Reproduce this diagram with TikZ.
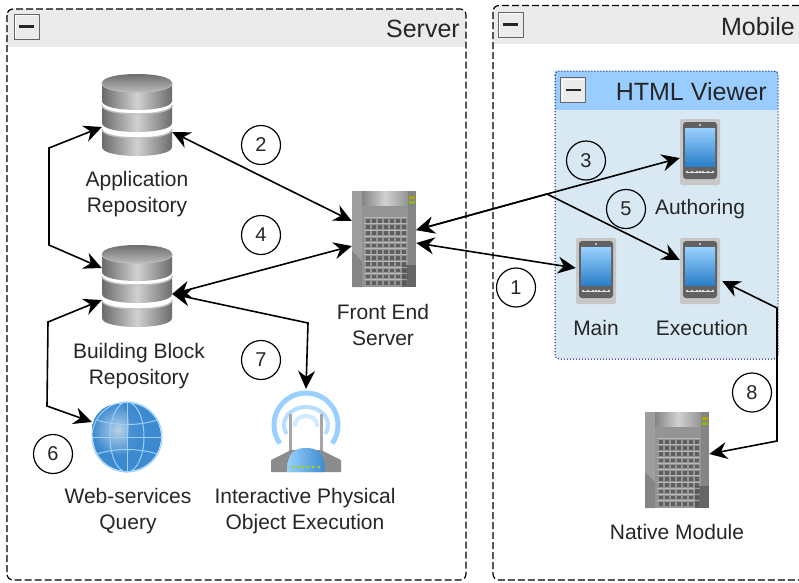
\documentclass[tikz,border=0pt]{standalone}
\usepackage{fontspec}
\setmainfont{Liberation Sans}
\usetikzlibrary{arrows.meta}
\definecolor{hdr}{HTML}{EBEBEB}
\definecolor{txt}{HTML}{262626}
\definecolor{viewbody}{HTML}{D9E9F4}
\definecolor{viewhead}{HTML}{99CCFF}
\definecolor{wave}{HTML}{99D0FF}
\definecolor{deepblue}{HTML}{2A80C8}
\definecolor{globeout}{HTML}{3D8AD0}
\definecolor{globein}{HTML}{B9D2E6}
\tikzset{
  x=1pt,y=-1pt,
  lbl/.style={font=\fontsize{21}{26}\selectfont,text=txt,align=center,inner sep=0pt},
  grouptitle/.style={font=\fontsize{25}{30}\selectfont,text=txt,inner sep=0pt,anchor=base east},
  num/.style={draw=black,line width=1.2pt,circle,minimum size=39pt,inner sep=0pt,font=\fontsize{20}{24}\selectfont,text=txt},
  conn/.style={line width=1.6pt,{Stealth[length=18pt,width=17pt,inset=6pt]}-{Stealth[length=18pt,width=17pt,inset=6pt]},line join=miter},
  groupline/.style={draw=black,line width=1.2pt,dash pattern=on 7pt off 3pt},
  iconbox/.style={rectangle,inner sep=0pt,draw=none},
  collapse/.style={rectangle,draw=gray!80!black,line width=1pt,fill=hdr,minimum size=25pt,inner sep=0pt,font=\fontsize{1}{1}\selectfont},
}
\newcommand{\minusbox}[3]{%
  \node[collapse] (#1) at (#2,#3) {};
  \draw[black!85,line width=2.6pt] (#2-7.5,#3) -- (#2+7.5,#3);
  \draw[white,line width=.8pt] (#2-11,#3+11) -- (#2-11,#3-11) -- (#2+11,#3-11);
}
\newcommand{\dbicon}[3]{%
  \begin{scope}[shift={(#2,#3)}]
    \foreach \t in {55,31,9}{
      \path[left color=black!58,right color=black!58,middle color=black!18]
        (0,\t) -- (0,\t+18) .. controls (0,\t+30) and (70,\t+30) .. (70,\t+18) -- (70,\t) .. controls (70,\t+12) and (0,\t+12) .. (0,\t) -- cycle;
      \draw[black!25,line width=1.4pt] (0,\t) .. controls (0,\t+12) and (70,\t+12) .. (70,\t);
    }
    \path[top color=black!62,bottom color=black!22] (0,9) .. controls (0,-3) and (70,-3) .. (70,9) .. controls (70,21) and (0,21) .. (0,9) -- cycle;
    \node[iconbox,minimum width=70pt,minimum height=82pt] (#1) at (35,41) {};
  \end{scope}
}
\newcommand{\phoneicon}[3]{%
  \begin{scope}[shift={(#2,#3)}]
    \fill[black!22,rounded corners=2pt] (0,0) rectangle (40,66);
    \fill[black!62,rounded corners=3pt] (3,3) rectangle (37,60);
    \path[top color=wave,bottom color=deepblue] (5,9) rectangle (35,47);
    \fill[white,opacity=.8] (20,6) circle (1.2pt);
    \foreach \d in {7,12,17,20,23,28,33}{\fill[black!12] (\d,53) circle (1.3pt);}
    \draw[black!12,line width=.5pt] (7,53) -- (33,53);
    \node[iconbox,minimum width=40pt,minimum height=66pt] (#1) at (20,33) {};
  \end{scope}
}
\newcommand{\servericon}[3]{%
  \begin{scope}[shift={(#2,#3)}]
    \fill[black!42] (0,0) rectangle (64,96);
    \path[left color=black!48,right color=black!42,middle color=black!18] (10,0) rectangle (56,14);
    \fill[black!38] (0,0) rectangle (10,96);
    \fill[black!48] (56,0) rectangle (64,96);
    \fill[black!60] (50,74) rectangle (64,96);
    \fill[black!48] (0,60) -- (10,70) -- (10,96) -- (0,96) -- cycle;
    \fill[olive!70!yellow] (57,5) rectangle (63,8);
    \fill[olive!50!green!70!yellow] (57,10) rectangle (63,13);
    \foreach \c in {0,...,6}{\foreach \r in {0,...,10}{
      \fill[black!68,opacity=.8] (14+\c*6,28+\r*6.2) rectangle +(3.6,3.6);
    }}
    \foreach \r in {0,...,10}{\draw[white,opacity=.35,line width=.6pt] (12,26.5+\r*6.2) -- (55,26.5+\r*6.2);}
    \node[iconbox,minimum width=64pt,minimum height=96pt] (#1) at (32,48) {};
  \end{scope}
}
\begin{document}
\begin{tikzpicture}
\useasboundingbox (0,0) rectangle (799,582);
\fill[white] (0,0) rectangle (799,582);

% Server group
\fill[hdr,rounded corners=6pt] (7,9) rectangle (466,30);
\fill[hdr] (7,18) rectangle (466,47);
\draw[groupline,rounded corners=6pt] (7,9) rectangle (466,580);
\minusbox{servermin}{26.5}{26.5}
\node[grouptitle] (servertitle) at (460,37) {Server};

% Mobile group
\fill[hdr] (493,6) rectangle (799,44);
\draw[groupline,rounded corners=6pt] (799,5.5) -- (493,5.5) -- (493,580) -- (799,580);
\minusbox{mobilemin}{510.5}{24.5}
\node[grouptitle] (mobiletitle) at (795,35) {Mobile};

% HTML Viewer
\fill[viewbody,rounded corners=4pt] (555,71) rectangle (778,359);
\fill[viewhead] (555,71) rectangle (778,110);
\draw[draw=black!65!blue,line width=1pt,dotted,rounded corners=4pt] (555,71) rectangle (778,359);
\minusbox{viewmin}{573}{90}
\node[grouptitle] (viewtitle) at (767,100) {HTML Viewer};

% Icons
\dbicon{appdb}{102}{74}
\dbicon{bbdb}{102}{245}
\servericon{fes}{352}{191}
\servericon{native}{645}{412}
\phoneicon{author}{680}{119}
\phoneicon{exec}{680}{238}
\phoneicon{mainp}{576}{238}

% Globe
\fill[globeout] (127,437) circle (34pt);
\shade[inner color=globein,outer color=globeout] (118,430) circle (26pt);
\fill[globeout,opacity=.8] (125,408) .. controls (145,405) and (158,420) .. (156,440) .. controls (150,455) and (140,462) .. (132,455) .. controls (122,440) and (135,425) .. (125,408) -- cycle;
\begin{scope}[draw=wave,line width=1pt]
  \draw (127,437) circle (35pt);
  \draw (127,437) ellipse [x radius=17pt,y radius=35pt];
  \draw (127,402) -- (127,472);
  \draw (92,437) -- (162,437);
  \draw (97,420) .. controls (115,426) and (139,426) .. (157,420);
  \draw (97,454) .. controls (115,448) and (139,448) .. (157,454);
\end{scope}
\node[iconbox,circle,minimum size=70pt] (globe) at (127,437) {};

% Router
\draw[wave!70!white,line width=4pt] plot[smooth,domain=-30:210,samples=25] ({306+22*cos(\x)},{425-18*sin(\x)});
\draw[wave!45!white,line width=4pt] plot[smooth,domain=-10:190,samples=25] ({306+11*cos(\x)},{425-9*sin(\x)});
\draw[black!35,line width=3pt] (290.5,414) -- (290.5,452);
\draw[black!35,line width=3pt] (321.5,414) -- (321.5,452);
\draw[wave,line width=5pt] plot[smooth,domain=-35:215,samples=30] ({306+32*cos(\x)},{425-32*sin(\x)});
\fill[black!45] (271,460) -- (291,450) -- (321,450) -- (341,460) -- (341,472) -- (271,472) -- cycle;
\path[left color=wave,right color=globeout] (287,472) .. controls (287,452) and (295,448) .. (306,448) .. controls (317,448) and (325,452) .. (325,472) -- cycle;
\foreach \d in {293,298,303,308,313,319}{\fill[yellow!60!green] (\d,467) circle (1.6pt);}
\node[iconbox,minimum width=70pt,minimum height=84pt] (router) at (306,431) {};

% Labels
\node[lbl] (applbl) at (137,194) {Application\\Repository};
\node[lbl] (bblbl) at (139,366) {Building Block\\Repository};
\node[lbl] (weblbl) at (128,511) {Web-services\\Query};
\node[lbl] (iplbl) at (305,511) {Interactive Physical\\Object Execution};
\node[lbl] (feslbl) at (383,325) {Front End\\Server};
\node[lbl] (mainlbl) at (596,328) {Main};
\node[lbl] (execlbl) at (702,328) {Execution};
\node[lbl] (authlbl) at (700,209) {Authoring};
\node[lbl] (natlbl) at (677,532) {Native Module};

% Way points
\coordinate (wa) at (49,148);
\coordinate (wb) at (49,245);
\coordinate (wc) at (48,322);
\coordinate (wd) at (47,406);
\coordinate (we) at (308,323);
\coordinate (wf) at (547,194);
\coordinate (wg) at (777,308);
\coordinate (wh) at (777,441);

% Connectors
\draw[conn] ([yshift=-12pt]appdb.west) -- (wa) -- (wb) -- ([yshift=18pt]bbdb.west);
\draw[conn] ([yshift=-17pt]appdb.east) -- ([yshift=18pt]fes.west);
\draw[conn] ([yshift=-8pt]bbdb.east) -- ([yshift=-7pt]fes.west);
\draw[conn] ([yshift=-14pt]bbdb.west) -- (wc) -- (wd) -- ([yshift=15pt]globe.west);
\draw[conn] ([yshift=-8pt]bbdb.east) -- (we) -- (router.north);
\draw[conn] ([yshift=9pt]fes.east) -- (wf) -- ([yshift=-6pt]author.west);
\draw[conn] ([yshift=9pt]fes.east) -- (wf) -- ([yshift=11pt]exec.west);
\draw[conn] ([yshift=-4pt]fes.east) -- ([yshift=3pt]mainp.west);
\draw[conn] ([xshift=2pt,yshift=-10pt]exec.east) -- (wg) -- (wh) -- ([yshift=6pt]native.east);

% Numbers
\node[num] (n1) at (516,287.5) {1};
\node[num] (n2) at (261,145) {2};
\node[num] (n3) at (586,160.5) {3};
\node[num] (n4) at (261,235) {4};
\node[num] (n5) at (626,209) {5};
\node[num] (n6) at (53,454) {6};
\node[num] (n7) at (261,360) {7};
\node[num] (n8) at (752,392.5) {8};
\end{tikzpicture}
\end{document}
